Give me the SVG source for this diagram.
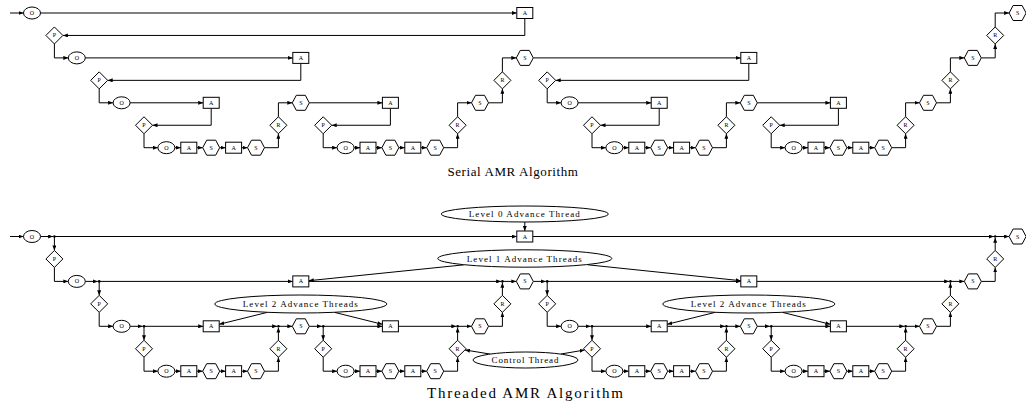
<svg xmlns="http://www.w3.org/2000/svg" xmlns:xlink="http://www.w3.org/1999/xlink" width="1026" height="407" viewBox="0 0 1026 407">
<style>
.e{fill:none;stroke:#000;stroke-width:1;marker-end:url(#ah)}
.n{fill:#fff;stroke:#000;stroke-width:1}
.t{font-family:"Liberation Serif",serif;font-size:6px;text-anchor:middle;fill:#000}
.lb{font-family:"Liberation Serif",serif;font-size:9px;text-anchor:middle;fill:#000;letter-spacing:1px}
.cap{font-family:"Liberation Serif",serif;text-anchor:middle;fill:#000}
.j{fill:#000}
</style>
<defs>
<marker id="ah" viewBox="0 0 5 4" refX="5" refY="2" markerWidth="5" markerHeight="4" markerUnits="userSpaceOnUse" orient="auto"><path d="M0,0L5,2L0,4z" fill="#000"/></marker>
<ellipse id="shO" rx="8.5" ry="6"/>
<rect id="shA" x="-8" y="-5.5" width="16" height="11"/>
<polygon id="shS" points="-8.5,0 -4.5,-7.5 4.5,-7.5 8.5,0 4.5,7.5 -4.5,7.5"/>
<polygon id="shD" points="0,-8.5 8.5,0 0,8.5 -8.5,0"/>
</defs>
<rect width="1026" height="407" fill="#fff"/>

<!-- ===== Serial connectors ===== -->
<g id="serial-edges">
<path class="e" d="M10,13H23.5"/>
<path class="e" d="M40.5,13H516.8"/>
<path class="e" d="M524.8,18.5V35.45H62.9"/>
<path class="e" d="M54.4,43.95V57.9H68.3"/>
<path class="e" d="M85.3,57.9H292.8"/>
<path class="e" d="M300.8,63.4V80.35H107.7"/>
<path class="e" d="M99.2,88.85V102.8H113.1"/>
<path class="e" d="M130.1,102.8H203.2"/>
<path class="e" d="M211.2,108.3V125.25H152.5"/>
<path class="e" d="M144,133.75V147.7H157.9"/>
<path class="e" d="M174.9,147.7H180.8"/>
<path class="e" d="M196.8,147.7H202.7"/>
<path class="e" d="M219.7,147.7H225.6"/>
<path class="e" d="M241.6,147.7H247.5"/>
<path class="e" d="M264.5,147.7H278.4V133.75"/>
<path class="e" d="M278.4,116.75V102.8H292.3"/>
<path class="e" d="M309.3,102.8H382.4"/>
<path class="e" d="M390.4,108.3V125.25H331.7"/>
<path class="e" d="M323.2,133.75V147.7H337.1"/>
<path class="e" d="M354.1,147.7H360"/>
<path class="e" d="M376,147.7H381.9"/>
<path class="e" d="M398.9,147.7H404.8"/>
<path class="e" d="M420.8,147.7H426.7"/>
<path class="e" d="M443.7,147.7H457.6V133.75"/>
<path class="e" d="M457.6,116.75V102.8H471.5"/>
<path class="e" d="M488.5,102.8H502.4V88.85"/>
<path class="e" d="M502.4,71.85V57.9H516.3"/>
<path class="e" d="M533.3,57.9H740.8"/>
<path class="e" d="M748.8,63.4V80.35H555.7"/>
<path class="e" d="M547.2,88.85V102.8H561.1"/>
<path class="e" d="M578.1,102.8H651.2"/>
<path class="e" d="M659.2,108.3V125.25H600.5"/>
<path class="e" d="M592,133.75V147.7H605.9"/>
<path class="e" d="M622.9,147.7H628.8"/>
<path class="e" d="M644.8,147.7H650.7"/>
<path class="e" d="M667.7,147.7H673.6"/>
<path class="e" d="M689.6,147.7H695.5"/>
<path class="e" d="M712.5,147.7H726.4V133.75"/>
<path class="e" d="M726.4,116.75V102.8H740.3"/>
<path class="e" d="M757.3,102.8H830.4"/>
<path class="e" d="M838.4,108.3V125.25H779.7"/>
<path class="e" d="M771.2,133.75V147.7H785.1"/>
<path class="e" d="M802.1,147.7H808"/>
<path class="e" d="M824,147.7H829.9"/>
<path class="e" d="M846.9,147.7H852.8"/>
<path class="e" d="M868.8,147.7H874.7"/>
<path class="e" d="M891.7,147.7H905.6V133.75"/>
<path class="e" d="M905.6,116.75V102.8H919.5"/>
<path class="e" d="M936.5,102.8H950.4V88.85"/>
<path class="e" d="M950.4,71.85V57.9H964.3"/>
<path class="e" d="M981.3,57.9H995.2V43.95"/>
<path class="e" d="M995.2,26.95V13H1009.1"/>
</g>

<!-- ===== Serial nodes ===== -->
<g id="s1" transform="translate(32,13)"><use class="n" href="#shO"/><text class="t" y="2">O</text></g>
<g id="s2" transform="translate(524.8,13)"><use class="n" href="#shA"/><text class="t" y="2">A</text></g>
<g id="s3" transform="translate(54.4,35.45)"><use class="n" href="#shD"/><text class="t" y="2">P</text></g>
<g id="s4" transform="translate(76.8,57.9)"><use class="n" href="#shO"/><text class="t" y="2">O</text></g>
<g id="s5" transform="translate(300.8,57.9)"><use class="n" href="#shA"/><text class="t" y="2">A</text></g>
<g id="s6" transform="translate(99.2,80.35)"><use class="n" href="#shD"/><text class="t" y="2">P</text></g>
<g id="s7" transform="translate(121.6,102.8)"><use class="n" href="#shO"/><text class="t" y="2">O</text></g>
<g id="s8" transform="translate(211.2,102.8)"><use class="n" href="#shA"/><text class="t" y="2">A</text></g>
<g id="s9" transform="translate(144,125.25)"><use class="n" href="#shD"/><text class="t" y="2">P</text></g>
<g id="s10" transform="translate(166.4,147.7)"><use class="n" href="#shO"/><text class="t" y="2">O</text></g>
<g id="s11" transform="translate(188.8,147.7)"><use class="n" href="#shA"/><text class="t" y="2">A</text></g>
<g id="s12" transform="translate(211.2,147.7)"><use class="n" href="#shS"/><text class="t" y="2">S</text></g>
<g id="s13" transform="translate(233.6,147.7)"><use class="n" href="#shA"/><text class="t" y="2">A</text></g>
<g id="s14" transform="translate(256,147.7)"><use class="n" href="#shS"/><text class="t" y="2">S</text></g>
<g id="s15" transform="translate(278.4,125.25)"><use class="n" href="#shD"/><text class="t" y="2">R</text></g>
<g id="s16" transform="translate(300.8,102.8)"><use class="n" href="#shS"/><text class="t" y="2">S</text></g>
<g id="s17" transform="translate(390.4,102.8)"><use class="n" href="#shA"/><text class="t" y="2">A</text></g>
<g id="s18" transform="translate(323.2,125.25)"><use class="n" href="#shD"/><text class="t" y="2">P</text></g>
<g id="s19" transform="translate(345.6,147.7)"><use class="n" href="#shO"/><text class="t" y="2">O</text></g>
<g id="s20" transform="translate(368,147.7)"><use class="n" href="#shA"/><text class="t" y="2">A</text></g>
<g id="s21" transform="translate(390.4,147.7)"><use class="n" href="#shS"/><text class="t" y="2">S</text></g>
<g id="s22" transform="translate(412.8,147.7)"><use class="n" href="#shA"/><text class="t" y="2">A</text></g>
<g id="s23" transform="translate(435.2,147.7)"><use class="n" href="#shS"/><text class="t" y="2">S</text></g>
<g id="s24" transform="translate(457.6,125.25)"><use class="n" href="#shD"/><text class="t" y="2">R</text></g>
<g id="s25" transform="translate(480,102.8)"><use class="n" href="#shS"/><text class="t" y="2">S</text></g>
<g id="s26" transform="translate(502.4,80.35)"><use class="n" href="#shD"/><text class="t" y="2">R</text></g>
<g id="s27" transform="translate(524.8,57.9)"><use class="n" href="#shS"/><text class="t" y="2">S</text></g>
<g id="s28" transform="translate(748.8,57.9)"><use class="n" href="#shA"/><text class="t" y="2">A</text></g>
<g id="s29" transform="translate(547.2,80.35)"><use class="n" href="#shD"/><text class="t" y="2">P</text></g>
<g id="s30" transform="translate(569.6,102.8)"><use class="n" href="#shO"/><text class="t" y="2">O</text></g>
<g id="s31" transform="translate(659.2,102.8)"><use class="n" href="#shA"/><text class="t" y="2">A</text></g>
<g id="s32" transform="translate(592,125.25)"><use class="n" href="#shD"/><text class="t" y="2">P</text></g>
<g id="s33" transform="translate(614.4,147.7)"><use class="n" href="#shO"/><text class="t" y="2">O</text></g>
<g id="s34" transform="translate(636.8,147.7)"><use class="n" href="#shA"/><text class="t" y="2">A</text></g>
<g id="s35" transform="translate(659.2,147.7)"><use class="n" href="#shS"/><text class="t" y="2">S</text></g>
<g id="s36" transform="translate(681.6,147.7)"><use class="n" href="#shA"/><text class="t" y="2">A</text></g>
<g id="s37" transform="translate(704,147.7)"><use class="n" href="#shS"/><text class="t" y="2">S</text></g>
<g id="s38" transform="translate(726.4,125.25)"><use class="n" href="#shD"/><text class="t" y="2">R</text></g>
<g id="s39" transform="translate(748.8,102.8)"><use class="n" href="#shS"/><text class="t" y="2">S</text></g>
<g id="s40" transform="translate(838.4,102.8)"><use class="n" href="#shA"/><text class="t" y="2">A</text></g>
<g id="s41" transform="translate(771.2,125.25)"><use class="n" href="#shD"/><text class="t" y="2">P</text></g>
<g id="s42" transform="translate(793.6,147.7)"><use class="n" href="#shO"/><text class="t" y="2">O</text></g>
<g id="s43" transform="translate(816,147.7)"><use class="n" href="#shA"/><text class="t" y="2">A</text></g>
<g id="s44" transform="translate(838.4,147.7)"><use class="n" href="#shS"/><text class="t" y="2">S</text></g>
<g id="s45" transform="translate(860.8,147.7)"><use class="n" href="#shA"/><text class="t" y="2">A</text></g>
<g id="s46" transform="translate(883.2,147.7)"><use class="n" href="#shS"/><text class="t" y="2">S</text></g>
<g id="s47" transform="translate(905.6,125.25)"><use class="n" href="#shD"/><text class="t" y="2">R</text></g>
<g id="s48" transform="translate(928,102.8)"><use class="n" href="#shS"/><text class="t" y="2">S</text></g>
<g id="s49" transform="translate(950.4,80.35)"><use class="n" href="#shD"/><text class="t" y="2">R</text></g>
<g id="s50" transform="translate(972.8,57.9)"><use class="n" href="#shS"/><text class="t" y="2">S</text></g>
<g id="s51" transform="translate(995.2,35.45)"><use class="n" href="#shD"/><text class="t" y="2">R</text></g>
<g id="s52" transform="translate(1017.6,13)"><use class="n" href="#shS"/><text class="t" y="2">S</text></g>

<text id="serial-caption" class="cap" x="513" y="176" font-size="13" letter-spacing="0.6">Serial AMR Algorithm</text>

<!-- ===== Threaded connectors ===== -->
<g id="threaded-edges">
<path class="e" d="M10,236.5H23.5"/>
<path class="e" d="M40.5,236.5H53.1"/>
<path class="e" d="M54.4,236.5H516.8"/>
<path class="e" d="M54.4,236.5V250.45"/>
<path class="e" d="M532.8,236.5H993.9"/>
<path class="e" d="M995.2,250.45V237.8"/>
<path class="e" d="M995.2,236.5H1009.1"/>
<path class="e" d="M54.4,267.45V281.4H68.3"/>
<path class="e" d="M85.3,281.4H97.9"/>
<path class="e" d="M99.2,281.4H292.8"/>
<path class="e" d="M99.2,281.4V295.35"/>
<path class="e" d="M308.8,281.4H501.1"/>
<path class="e" d="M502.4,295.35V282.7"/>
<path class="e" d="M502.4,281.4H516.3"/>
<path class="e" d="M533.3,281.4H545.9"/>
<path class="e" d="M547.2,281.4H740.8"/>
<path class="e" d="M547.2,281.4V295.35"/>
<path class="e" d="M756.8,281.4H949.1"/>
<path class="e" d="M950.4,295.35V282.7"/>
<path class="e" d="M950.4,281.4H964.3"/>
<path class="e" d="M981.3,281.4H995.2V267.45"/>
<path class="e" d="M99.2,312.35V326.3H113.1"/>
<path class="e" d="M130.1,326.3H142.7"/>
<path class="e" d="M144,326.3H203.2"/>
<path class="e" d="M144,326.3V340.25"/>
<path class="e" d="M219.2,326.3H277.1"/>
<path class="e" d="M278.4,340.25V327.6"/>
<path class="e" d="M278.4,326.3H292.3"/>
<path class="e" d="M309.3,326.3H321.9"/>
<path class="e" d="M323.2,326.3H382.4"/>
<path class="e" d="M323.2,326.3V340.25"/>
<path class="e" d="M398.4,326.3H456.3"/>
<path class="e" d="M457.6,340.25V327.6"/>
<path class="e" d="M457.6,326.3H471.5"/>
<path class="e" d="M488.5,326.3H502.4V312.35"/>
<path class="e" d="M144,357.25V371.2H157.9"/>
<path class="e" d="M174.9,371.2H180.8"/>
<path class="e" d="M196.8,371.2H202.7"/>
<path class="e" d="M219.7,371.2H225.6"/>
<path class="e" d="M241.6,371.2H247.5"/>
<path class="e" d="M264.5,371.2H278.4V357.25"/>
<path class="e" d="M323.2,357.25V371.2H337.1"/>
<path class="e" d="M354.1,371.2H360"/>
<path class="e" d="M376,371.2H381.9"/>
<path class="e" d="M398.9,371.2H404.8"/>
<path class="e" d="M420.8,371.2H426.7"/>
<path class="e" d="M443.7,371.2H457.6V357.25"/>
<path class="e" d="M547.2,312.35V326.3H561.1"/>
<path class="e" d="M578.1,326.3H590.7"/>
<path class="e" d="M592,326.3H651.2"/>
<path class="e" d="M592,326.3V340.25"/>
<path class="e" d="M667.2,326.3H725.1"/>
<path class="e" d="M726.4,340.25V327.6"/>
<path class="e" d="M726.4,326.3H740.3"/>
<path class="e" d="M757.3,326.3H769.9"/>
<path class="e" d="M771.2,326.3H830.4"/>
<path class="e" d="M771.2,326.3V340.25"/>
<path class="e" d="M846.4,326.3H904.3"/>
<path class="e" d="M905.6,340.25V327.6"/>
<path class="e" d="M905.6,326.3H919.5"/>
<path class="e" d="M936.5,326.3H950.4V312.35"/>
<path class="e" d="M592,357.25V371.2H605.9"/>
<path class="e" d="M622.9,371.2H628.8"/>
<path class="e" d="M644.8,371.2H650.7"/>
<path class="e" d="M667.7,371.2H673.6"/>
<path class="e" d="M689.6,371.2H695.5"/>
<path class="e" d="M712.5,371.2H726.4V357.25"/>
<path class="e" d="M771.2,357.25V371.2H785.1"/>
<path class="e" d="M802.1,371.2H808"/>
<path class="e" d="M824,371.2H829.9"/>
<path class="e" d="M846.9,371.2H852.8"/>
<path class="e" d="M868.8,371.2H874.7"/>
<path class="e" d="M891.7,371.2H905.6V357.25"/>
<!-- thread label connectors -->
<path class="e" d="M524.8,222V231"/>
<path class="e" d="M464.1,264.8L308.8,280.7"/>
<path class="e" d="M587.8,264.8L740.8,280.7"/>
<path class="e" d="M267.6,312.3L219.2,324.3"/>
<path class="e" d="M334.3,312.3L382.4,324.3"/>
<path class="e" d="M715.4,312.3L667.2,324.3"/>
<path class="e" d="M782.2,312.3L830.4,324.3"/>
<path class="e" d="M490.3,354.1L464.9,349.95"/>
<path class="e" d="M561,354L584.7,350"/>
</g>

<!-- junction points -->
<g id="junctions" class="j">
<circle id="j1" cx="54.4" cy="236.5" r="1.3"/>
<circle id="j2" cx="995.2" cy="236.5" r="1.3"/>
<circle id="j3" cx="99.2" cy="281.4" r="1.3"/>
<circle id="j4" cx="502.4" cy="281.4" r="1.3"/>
<circle id="j5" cx="547.2" cy="281.4" r="1.3"/>
<circle id="j6" cx="950.4" cy="281.4" r="1.3"/>
<circle id="j7" cx="144" cy="326.3" r="1.3"/>
<circle id="j8" cx="278.4" cy="326.3" r="1.3"/>
<circle id="j9" cx="323.2" cy="326.3" r="1.3"/>
<circle id="j10" cx="457.6" cy="326.3" r="1.3"/>
<circle id="j11" cx="592" cy="326.3" r="1.3"/>
<circle id="j12" cx="726.4" cy="326.3" r="1.3"/>
<circle id="j13" cx="771.2" cy="326.3" r="1.3"/>
<circle id="j14" cx="905.6" cy="326.3" r="1.3"/>
</g>

<!-- ===== Threaded nodes ===== -->
<g id="t1" transform="translate(32,236.5)"><use class="n" href="#shO"/><text class="t" y="2">O</text></g>
<g id="t2" transform="translate(524.8,236.5)"><use class="n" href="#shA"/><text class="t" y="2">A</text></g>
<g id="t3" transform="translate(1017.6,236.5)"><use class="n" href="#shS"/><text class="t" y="2">S</text></g>
<g id="t4" transform="translate(995.2,258.95)"><use class="n" href="#shD"/><text class="t" y="2">R</text></g>
<g id="t5" transform="translate(54.4,258.95)"><use class="n" href="#shD"/><text class="t" y="2">P</text></g>
<g id="t6" transform="translate(76.8,281.4)"><use class="n" href="#shO"/><text class="t" y="2">O</text></g>
<g id="t7" transform="translate(300.8,281.4)"><use class="n" href="#shA"/><text class="t" y="2">A</text></g>
<g id="t8" transform="translate(502.4,303.85)"><use class="n" href="#shD"/><text class="t" y="2">R</text></g>
<g id="t9" transform="translate(524.8,281.4)"><use class="n" href="#shS"/><text class="t" y="2">S</text></g>
<g id="t10" transform="translate(99.2,303.85)"><use class="n" href="#shD"/><text class="t" y="2">P</text></g>
<g id="t11" transform="translate(121.6,326.3)"><use class="n" href="#shO"/><text class="t" y="2">O</text></g>
<g id="t12" transform="translate(211.2,326.3)"><use class="n" href="#shA"/><text class="t" y="2">A</text></g>
<g id="t13" transform="translate(278.4,348.75)"><use class="n" href="#shD"/><text class="t" y="2">R</text></g>
<g id="t14" transform="translate(300.8,326.3)"><use class="n" href="#shS"/><text class="t" y="2">S</text></g>
<g id="t15" transform="translate(144,348.75)"><use class="n" href="#shD"/><text class="t" y="2">P</text></g>
<g id="t16" transform="translate(166.4,371.2)"><use class="n" href="#shO"/><text class="t" y="2">O</text></g>
<g id="t17" transform="translate(188.8,371.2)"><use class="n" href="#shA"/><text class="t" y="2">A</text></g>
<g id="t18" transform="translate(211.2,371.2)"><use class="n" href="#shS"/><text class="t" y="2">S</text></g>
<g id="t19" transform="translate(233.6,371.2)"><use class="n" href="#shA"/><text class="t" y="2">A</text></g>
<g id="t20" transform="translate(256,371.2)"><use class="n" href="#shS"/><text class="t" y="2">S</text></g>
<g id="t21" transform="translate(323.2,348.75)"><use class="n" href="#shD"/><text class="t" y="2">P</text></g>
<g id="t22" transform="translate(390.4,326.3)"><use class="n" href="#shA"/><text class="t" y="2">A</text></g>
<g id="t23" transform="translate(457.6,348.75)"><use class="n" href="#shD"/><text class="t" y="2">R</text></g>
<g id="t24" transform="translate(480,326.3)"><use class="n" href="#shS"/><text class="t" y="2">S</text></g>
<g id="t25" transform="translate(345.6,371.2)"><use class="n" href="#shO"/><text class="t" y="2">O</text></g>
<g id="t26" transform="translate(368,371.2)"><use class="n" href="#shA"/><text class="t" y="2">A</text></g>
<g id="t27" transform="translate(390.4,371.2)"><use class="n" href="#shS"/><text class="t" y="2">S</text></g>
<g id="t28" transform="translate(412.8,371.2)"><use class="n" href="#shA"/><text class="t" y="2">A</text></g>
<g id="t29" transform="translate(435.2,371.2)"><use class="n" href="#shS"/><text class="t" y="2">S</text></g>
<g id="t30" transform="translate(547.2,303.85)"><use class="n" href="#shD"/><text class="t" y="2">P</text></g>
<g id="t31" transform="translate(748.8,281.4)"><use class="n" href="#shA"/><text class="t" y="2">A</text></g>
<g id="t32" transform="translate(950.4,303.85)"><use class="n" href="#shD"/><text class="t" y="2">R</text></g>
<g id="t33" transform="translate(972.8,281.4)"><use class="n" href="#shS"/><text class="t" y="2">S</text></g>
<g id="t34" transform="translate(569.6,326.3)"><use class="n" href="#shO"/><text class="t" y="2">O</text></g>
<g id="t35" transform="translate(659.2,326.3)"><use class="n" href="#shA"/><text class="t" y="2">A</text></g>
<g id="t36" transform="translate(726.4,348.75)"><use class="n" href="#shD"/><text class="t" y="2">R</text></g>
<g id="t37" transform="translate(748.8,326.3)"><use class="n" href="#shS"/><text class="t" y="2">S</text></g>
<g id="t38" transform="translate(592,348.75)"><use class="n" href="#shD"/><text class="t" y="2">P</text></g>
<g id="t39" transform="translate(614.4,371.2)"><use class="n" href="#shO"/><text class="t" y="2">O</text></g>
<g id="t40" transform="translate(636.8,371.2)"><use class="n" href="#shA"/><text class="t" y="2">A</text></g>
<g id="t41" transform="translate(659.2,371.2)"><use class="n" href="#shS"/><text class="t" y="2">S</text></g>
<g id="t42" transform="translate(681.6,371.2)"><use class="n" href="#shA"/><text class="t" y="2">A</text></g>
<g id="t43" transform="translate(704,371.2)"><use class="n" href="#shS"/><text class="t" y="2">S</text></g>
<g id="t44" transform="translate(771.2,348.75)"><use class="n" href="#shD"/><text class="t" y="2">P</text></g>
<g id="t45" transform="translate(838.4,326.3)"><use class="n" href="#shA"/><text class="t" y="2">A</text></g>
<g id="t46" transform="translate(905.6,348.75)"><use class="n" href="#shD"/><text class="t" y="2">R</text></g>
<g id="t47" transform="translate(928,326.3)"><use class="n" href="#shS"/><text class="t" y="2">S</text></g>
<g id="t48" transform="translate(793.6,371.2)"><use class="n" href="#shO"/><text class="t" y="2">O</text></g>
<g id="t49" transform="translate(816,371.2)"><use class="n" href="#shA"/><text class="t" y="2">A</text></g>
<g id="t50" transform="translate(838.4,371.2)"><use class="n" href="#shS"/><text class="t" y="2">S</text></g>
<g id="t51" transform="translate(860.8,371.2)"><use class="n" href="#shA"/><text class="t" y="2">A</text></g>
<g id="t52" transform="translate(883.2,371.2)"><use class="n" href="#shS"/><text class="t" y="2">S</text></g>

<!-- thread label nodes -->
<g id="lvl0"><ellipse class="n" cx="524.8" cy="214" rx="83.5" ry="8"/><text class="lb" x="524.8" y="217" textLength="112">Level 0 Advance Thread</text></g>
<g id="lvl1"><ellipse class="n" cx="524.8" cy="258.5" rx="87" ry="8.7"/><text class="lb" x="524.8" y="261.5" textLength="116">Level 1 Advance Threads</text></g>
<g id="lvl2a"><ellipse class="n" cx="300.8" cy="304" rx="86" ry="9"/><text class="lb" x="300.8" y="307" textLength="116">Level 2 Advance Threads</text></g>
<g id="lvl2b"><ellipse class="n" cx="748.8" cy="304" rx="86" ry="9"/><text class="lb" x="748.8" y="307" textLength="116">Level 2 Advance Threads</text></g>
<g id="ctrl"><ellipse class="n" cx="525.5" cy="360" rx="52.5" ry="8"/><text class="lb" x="525.5" y="363" textLength="68">Control Thread</text></g>

<text id="threaded-caption" class="cap" x="525" y="398" font-size="15" textLength="196">Threaded AMR Algorithm</text>
</svg>
